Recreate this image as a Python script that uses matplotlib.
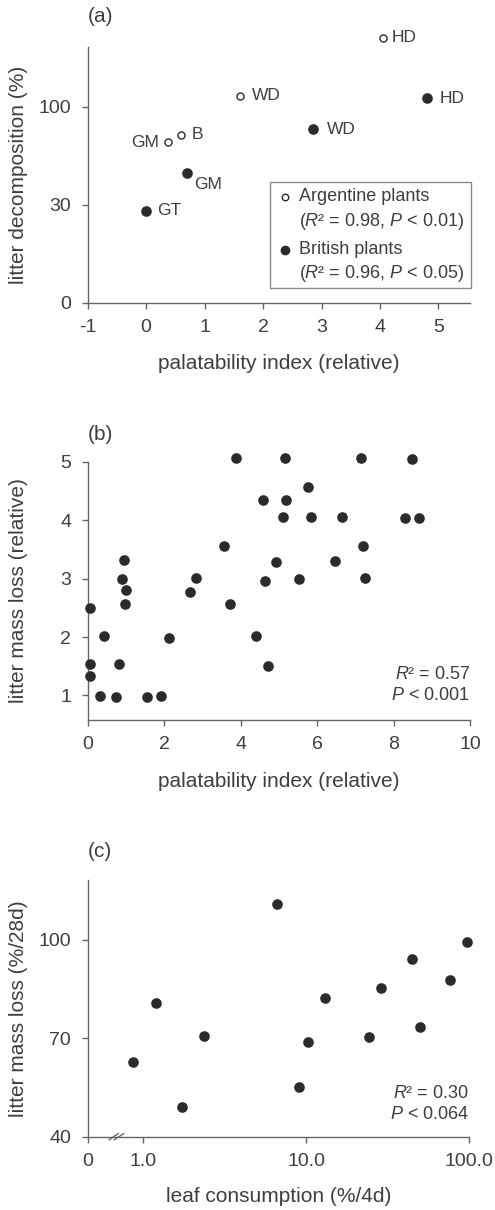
import numpy as np
import matplotlib
matplotlib.use("Agg")
import matplotlib.pyplot as plt
from matplotlib.patches import Rectangle

plt.rcParams['font.family'] = ['Liberation Sans', 'DejaVu Sans']
plt.rcParams['mathtext.fontset'] = 'custom'
plt.rcParams['mathtext.rm'] = 'Liberation Sans'
plt.rcParams['mathtext.it'] = 'Liberation Sans:italic'

TXT = '#3e3e3e'
SPN = '#666666'
DOT = '#2b2b2b'

# ---------------- data ----------------
# (a) Argentine (open) and British (filled) plants
arg_labels = ['HD', 'WD', 'B', 'GM']
arg_x = [4.05, 1.60, 0.59, 0.38]
arg_y = [149.5, 108.0, 80.0, 75.0]
brit_labels = ['HD', 'WD', 'GM', 'GT']
brit_x = [4.81, 2.86, 0.70, 0.00]
brit_y = [106.0, 84.0, 52.7, 28.0]
a_xticks = [-1, 0, 1, 2, 3, 4, 5]
a_yticks = [0, 30, 100]

# (b)
b_x = [3.89, 5.17, 7.14, 8.47, 5.75, 4.59, 5.18, 5.12, 5.84, 6.64, 8.29, 8.67,
       3.57, 7.21, 0.96, 4.93, 6.47, 0.90, 2.82, 5.54, 7.26, 4.65, 0.99, 2.68,
       0.97, 3.72, 0.06, 0.43, 2.12, 4.39, 0.06, 0.82, 4.72, 0.06, 0.31, 0.75,
       1.55, 1.93]
b_y = [5.07, 5.07, 5.07, 5.05, 4.57, 4.34, 4.34, 4.06, 4.06, 4.05, 4.04, 4.04,
       3.56, 3.56, 3.32, 3.29, 3.30, 3.00, 3.01, 3.00, 3.01, 2.96, 2.80, 2.77,
       2.56, 2.57, 2.49, 2.01, 1.99, 2.01, 1.53, 1.54, 1.51, 1.33, 0.99, 0.98,
       0.98, 0.99]
b_xticks = [0, 2, 4, 6, 8, 10]
b_yticks = [1, 2, 3, 4, 5]

# (c)
c_x = [0.87, 1.20, 1.72, 2.35, 6.66, 9.08, 10.2, 13.0, 24.3, 28.7, 44.4, 50.2, 76.2, 96.8]
c_y = [62.8, 80.9, 49.0, 70.6, 111.0, 55.2, 69.0, 82.3, 70.4, 85.3, 94.1, 73.6, 87.9, 99.5]
c_xticks = [1.0, 10.0, 100.0]
c_xticklabels = ['1.0', '10.0', '100.0']
c_zero_pos = 0.457   # where the "0" of the broken log axis sits
c_yticks = [40, 70, 100]

# ---------------- figure ----------------
W, H = 495, 1210
fig = plt.figure(figsize=(W / 100, H / 100), dpi=100)


def px_axes(left, right, top, bottom):
    return fig.add_axes([left / W, 1 - bottom / H, (right - left) / W, (bottom - top) / H])


def style(ax):
    for s in ['top', 'right']:
        ax.spines[s].set_visible(False)
    for s in ['left', 'bottom']:
        ax.spines[s].set_color(SPN)
        ax.spines[s].set_linewidth(1.0)
    ax.tick_params(direction='out', length=4, width=1, color=SPN, labelcolor=TXT,
                   labelsize=14)
    ax.tick_params(axis='x', pad=7.5)
    ax.tick_params(axis='y', pad=8)
    ax.tick_params(which='minor', length=0)


def labels(ax, xl, yl, xly, yx):
    ax.set_xlabel(xl, fontsize=15, color=TXT)
    ax.set_ylabel(yl, fontsize=15, color=TXT)
    ax.xaxis.set_label_coords(0.5, xly)
    ax.xaxis.label.set_va('center')
    ax.yaxis.set_label_coords(yx, 0.5)
    ax.yaxis.label.set_va('center')


# ---- (a) ----
def fwd(v):
    v = np.asarray(v, float)
    return np.where(v <= 30, v / 30, np.where(v <= 100, 1 + (v - 30) / 70, 2 + (v - 100) / 70))


def inv(p):
    p = np.asarray(p, float)
    return np.where(p <= 1, p * 30, np.where(p <= 2, 30 + (p - 1) * 70, 100 + (p - 2) * 70))


axa = px_axes(87.7, 470, 46.7, 302.7)
axa.set_yscale('function', functions=(fwd, inv))
axa.set_xlim(-1, 5.54)
axa.set_ylim(0, 143)
style(axa)
axa.set_xticks(a_xticks)
axa.set_xticklabels([str(t) for t in a_xticks])
axa.set_yticks(a_yticks)
axa.set_yticklabels([str(t) for t in a_yticks])
axa.yaxis.set_minor_locator(matplotlib.ticker.NullLocator())
axa.scatter(arg_x, arg_y, s=26, facecolor='white', edgecolor=DOT, linewidth=1.0,
            clip_on=False, zorder=3)
axa.scatter(brit_x, brit_y, s=44, color=DOT, clip_on=False, zorder=3)

arg_off = {'HD': (6.5, 0, 'left'), 'WD': (9, 0, 'left'), 'B': (8, 0.5, 'left'),
           'GM': (-6.5, -0.7, 'right')}
brit_off = {'HD': (8.6, 0, 'left'), 'WD': (9.8, 0, 'left'), 'GM': (4.8, -8.6, 'left'),
            'GT': (8, 0.4, 'left')}
for lab, x, y in zip(arg_labels, arg_x, arg_y):
    dx, dy, ha = arg_off[lab]
    axa.annotate(lab, (x, y), xytext=(dx, dy), textcoords='offset points',
                 ha=ha, va='center', fontsize=12.5, color=TXT, annotation_clip=False)
for lab, x, y in zip(brit_labels, brit_x, brit_y):
    dx, dy, ha = brit_off[lab]
    axa.annotate(lab, (x, y), xytext=(dx, dy), textcoords='offset points',
                 ha=ha, va='center', fontsize=12.5, color=TXT, annotation_clip=False)

# legend box (manual)
axa.add_patch(Rectangle((0.477, 0.056), 0.526, 0.417, transform=axa.transAxes,
                        facecolor='white', edgecolor='#8a8a8a', linewidth=1.0,
                        clip_on=False, zorder=4))
axa.scatter([0.516], [0.412], s=22, facecolor='white', edgecolor=DOT, linewidth=1.0,
            transform=axa.transAxes, clip_on=False, zorder=5)
axa.scatter([0.516], [0.206], s=36, color=DOT, transform=axa.transAxes,
            clip_on=False, zorder=5)
leg_lines = [(0.413, 'Argentine plants'), (0.319, '($R$² = 0.98, $P$ < 0.01)'),
             (0.206, 'British plants'), (0.116, '($R$² = 0.96, $P$ < 0.05)')]
for yy, t in leg_lines:
    axa.text(0.553, yy, t, transform=axa.transAxes, fontsize=13, color=TXT,
             ha='left', va='center', zorder=6)
labels(axa, 'palatability index (relative)', 'litter decomposition (%)', -0.236, -0.182)

# ---- (b) ----
axb = px_axes(87.7, 470, 461.7, 720)
axb.set_xlim(0, 10)
axb.set_ylim(0.58, 5.0)
style(axb)
axb.set_xticks(b_xticks)
axb.set_yticks(b_yticks)
axb.scatter(b_x, b_y, s=44, color=DOT, clip_on=False, zorder=3)
axb.text(0.9995, 0.176, '$R$² = 0.57', transform=axb.transAxes, ha='right', va='center',
         fontsize=13, color=TXT)
axb.text(0.9995, 0.096, '$P$ < 0.001', transform=axb.transAxes, ha='right', va='center',
         fontsize=13, color=TXT)
labels(axb, 'palatability index (relative)', 'litter mass loss (relative)', -0.239, -0.182)

# ---- (c) ----
axc = px_axes(87.7, 469.3, 880, 1136.7)
axc.set_xscale('log')
axc.set_xlim(c_zero_pos, 100)
axc.set_ylim(40, 118.3)
style(axc)
axc.set_xticks([c_zero_pos] + c_xticks)
axc.set_xticklabels(['0'] + c_xticklabels)
axc.xaxis.set_minor_locator(matplotlib.ticker.NullLocator())
axc.set_yticks(c_yticks)
axc.scatter(c_x, c_y, s=44, color=DOT, clip_on=False, zorder=3)
# axis break marks
for bx in (0.068, 0.082):
    axc.plot([bx - 0.012, bx + 0.012], [-0.012, 0.012], transform=axc.transAxes,
             color=SPN, linewidth=1.0, clip_on=False, zorder=5)
axc.text(0.9995, 0.167, '$R$² = 0.30', transform=axc.transAxes, ha='right', va='center',
         fontsize=13, color=TXT)
axc.text(0.9995, 0.087, '$P$ < 0.064', transform=axc.transAxes, ha='right', va='center',
         fontsize=13, color=TXT)
labels(axc, 'leaf consumption (%/4d)', 'litter mass loss (%/28d)', -0.234, -0.182)

# panel letters
for lab, yc in (('(a)', 16), ('(b)', 435), ('(c)', 851.7)):
    fig.text(88 / W, 1 - yc / H, lab, fontsize=15, color=TXT, ha='left', va='center')

fig.savefig('out.png', dpi=100)
